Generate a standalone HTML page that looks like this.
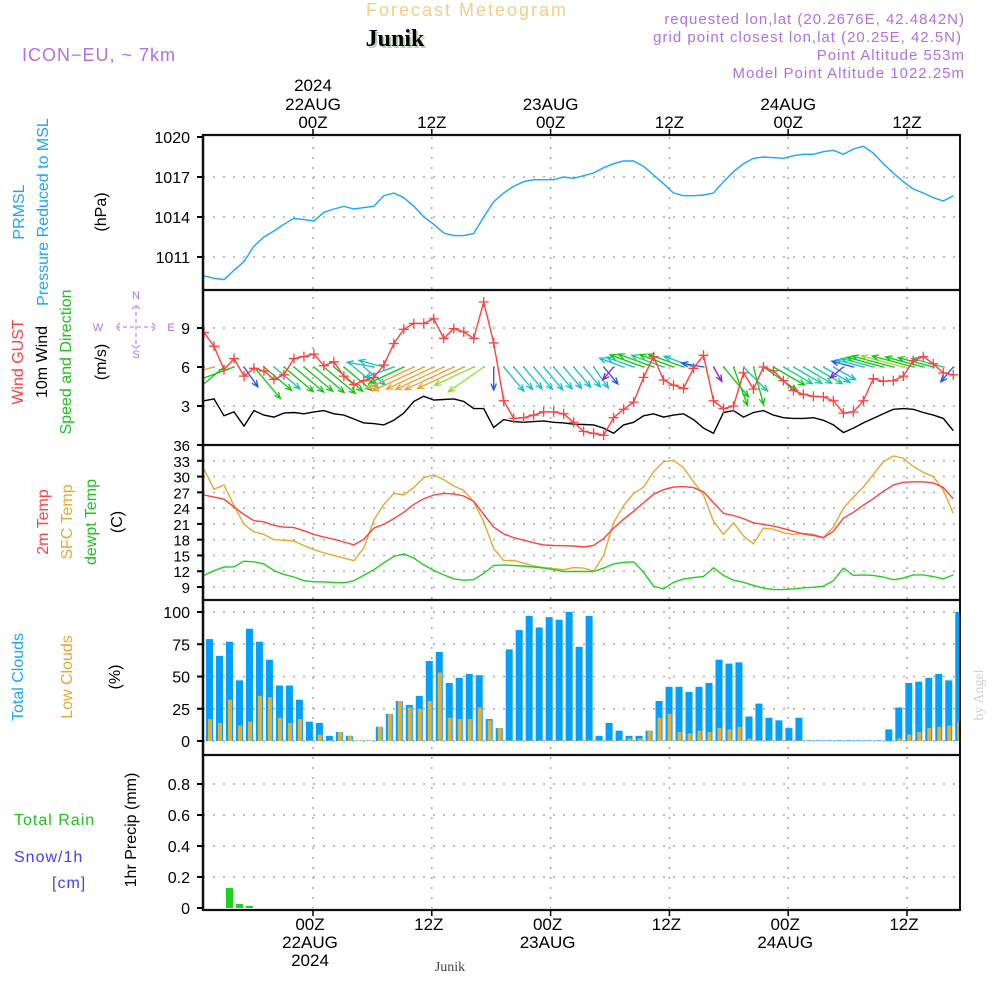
<!DOCTYPE html>
<html><head><meta charset="utf-8"><style>
html,body{margin:0;padding:0;background:#fff;}
svg{display:block;font-family:"Liberation Sans Narrow","Liberation Sans",sans-serif;}
</style></head><body>
<svg id="chart" width="1000" height="1000" viewBox="0 0 1000 1000" xmlns="http://www.w3.org/2000/svg">
<defs><clipPath id="plotclip"><rect x="203" y="135" width="757" height="775"/></clipPath></defs>
<rect x="0" y="0" width="1000" height="1000" fill="#fff"/>
<g>
<text x="467" y="16" text-anchor="middle" font-size="18" fill="#f2cc88" letter-spacing="2">Forecast Meteogram</text>
<text x="397" y="48" text-anchor="middle" font-size="24" font-weight="bold" fill="#b8d0b8" font-family="Liberation Serif,serif">Junik</text>
<text x="395" y="46" text-anchor="middle" font-size="24" font-weight="bold" fill="#000" font-family="Liberation Serif,serif">Junik</text>
<text x="22" y="61" font-size="18" fill="#b070e8" letter-spacing="1">ICON−EU, ~ 7km</text>
<text x="965" y="24" text-anchor="end" font-size="15" fill="#b070e8" letter-spacing="1">requested lon,lat (20.2676E, 42.4842N)</text>
<text x="962" y="42" text-anchor="end" font-size="15" fill="#b070e8" letter-spacing="1">grid point closest lon,lat (20.25E, 42.5N)</text>
<text x="965" y="60" text-anchor="end" font-size="15" fill="#b070e8" letter-spacing="1">Point Altitude 553m</text>
<text x="965" y="78" text-anchor="end" font-size="15" fill="#b070e8" letter-spacing="1">Model Point Altitude 1022.25m</text>
</g>
<g id="axes-labels" font-size="16">
<text transform="translate(24,212) rotate(-90)" text-anchor="middle" fill="#1aa6ff">PRMSL</text>
<text transform="translate(48,212) rotate(-90)" text-anchor="middle" fill="#1aa6ff">Pressure Reduced to MSL</text>
<text transform="translate(106,212) rotate(-90)" text-anchor="middle" fill="#000">(hPa)</text>
<text transform="translate(23,362) rotate(-90)" text-anchor="middle" fill="#ff4040">Wind GUST</text>
<text transform="translate(47,362) rotate(-90)" text-anchor="middle" fill="#000">10m Wind</text>
<text transform="translate(71,362) rotate(-90)" text-anchor="middle" fill="#20c020">Speed and Direction</text>
<text transform="translate(106,362) rotate(-90)" text-anchor="middle" fill="#000">(m/s)</text>
<g fill="#b070e8" font-size="11" text-anchor="middle">
<text x="136" y="299">N</text><text x="136" y="358">S</text><text x="98" y="331">W</text><text x="171" y="331">E</text>
<path d="M116,327H156M136,305V349M120,323L116,327L120,331M152,323L156,327L152,331M132,309L136,305L140,309M132,345L136,349L140,345" stroke="#b070e8" stroke-width="1" stroke-dasharray="4,3" fill="none"/>
</g>
<text transform="translate(48,522) rotate(-90)" text-anchor="middle" fill="#ff4040">2m Temp</text>
<text transform="translate(72,522) rotate(-90)" text-anchor="middle" fill="#e8a830">SFC Temp</text>
<text transform="translate(96,522) rotate(-90)" text-anchor="middle" fill="#20c020">dewpt Temp</text>
<text transform="translate(122,522) rotate(-90)" text-anchor="middle" fill="#000">(C)</text>
<text transform="translate(23,677) rotate(-90)" text-anchor="middle" fill="#1aa6ff">Total Clouds</text>
<text transform="translate(72,677) rotate(-90)" text-anchor="middle" fill="#e8a830">Low Clouds</text>
<text transform="translate(120,677) rotate(-90)" text-anchor="middle" fill="#000">(%)</text>
<text x="14" y="825" fill="#20c020" letter-spacing="1">Total  Rain</text>
<text x="14" y="862" fill="#4040ff" letter-spacing="1">Snow/1h</text>
<text x="52" y="888" fill="#4040ff" letter-spacing="1">[cm]</text>
<text transform="translate(136,830) rotate(-90)" text-anchor="middle" fill="#000">1hr Precip (mm)</text>
<text transform="translate(983,695) rotate(-90)" text-anchor="middle" fill="#d0d0d0" font-size="14" font-family="Liberation Serif,serif">by Angel</text>
<text x="450" y="971" text-anchor="middle" fill="#444" font-size="14" font-family="Liberation Serif,serif">Junik</text>
</g>
<g id="grid"></g>
<g id="marks" clip-path="url(#plotclip)"></g>
<g id="frame"></g>
<g id="ticks"></g>
</svg>
<script>
// ---- data ----
const pressure = [1009.58,1009.4,1009.3,1010.0,1010.65,1011.8,1012.5,1012.95,1013.45,1013.9,1013.8,1013.7,1014.35,1014.6,1014.8,1014.6,1014.7,1014.8,1015.6,1015.8,1015.45,1014.8,1014.0,1013.45,1012.8,1012.6,1012.6,1012.75,1014.0,1015.15,1015.8,1016.3,1016.65,1016.8,1016.8,1016.8,1017.0,1016.9,1017.1,1017.3,1017.7,1018.0,1018.2,1018.2,1017.8,1017.15,1016.5,1015.8,1015.6,1015.6,1015.65,1015.8,1016.65,1017.4,1018.0,1018.4,1018.5,1018.45,1018.4,1018.6,1018.7,1018.7,1018.9,1019.0,1018.7,1019.1,1019.3,1018.8,1018.0,1017.3,1016.65,1016.1,1015.8,1015.45,1015.2,1015.6];
const windGust = [8.65,7.6,5.8,6.65,5.3,5.9,5.7,5.05,5.4,6.65,6.8,7.0,6.1,6.4,5.3,4.65,4.95,5.2,6.15,7.8,8.9,9.35,9.35,9.7,8.2,8.95,8.7,8.2,11.0,7.85,3.4,2.05,2.1,2.3,2.55,2.55,2.4,1.75,1.05,0.9,0.75,2.1,2.75,3.3,5.2,6.8,5.0,4.6,4.35,5.9,6.9,3.4,2.8,3.0,5.55,4.3,6.0,5.7,4.95,4.2,3.9,3.75,3.7,3.4,2.45,2.55,3.4,5.1,4.9,4.95,5.3,6.5,6.8,6.25,5.55,5.4];
const wind10m = [3.4,3.55,2.25,2.55,1.45,2.65,2.3,2.15,2.45,2.5,2.4,2.55,2.65,2.4,2.3,2.0,1.7,1.65,1.55,1.9,2.45,3.35,3.75,3.45,3.5,3.55,3.35,2.8,2.8,1.35,1.95,1.8,1.75,1.8,1.85,1.75,1.7,1.6,1.58,1.55,1.3,0.9,1.55,1.75,2.25,2.4,2.15,2.3,2.4,1.95,1.3,0.9,2.5,2.65,2.15,2.5,2.65,2.3,2.1,2.05,2.05,2.1,1.9,1.55,0.95,1.3,1.7,2.05,2.4,2.75,2.8,2.75,2.5,2.3,2.05,1.1];
const windDir = [250,255,230,250,145,140,130,130,130,130,130,130,130,130,130,130,130,280,285,250,245,245,245,245,245,245,245,245,235,180,140,140,140,140,140,140,140,140,140,145,140,220,290,290,290,290,290,290,290,290,280,150,140,160,135,165,125,120,120,120,120,120,120,120,230,285,285,285,285,285,285,285,285,285,285,220];
const temp2m = [26.5,26.1,25.7,24.2,22.8,21.6,21.4,20.7,20.4,20.3,19.7,19.0,18.5,18.1,17.55,17.0,18.1,20.2,20.9,22.0,23.2,24.7,25.8,26.5,26.8,26.7,26.3,25.3,22.8,20.4,19.1,18.4,17.9,17.4,17.0,16.9,16.85,16.8,16.6,16.9,18.2,20.2,21.9,23.4,25.05,26.6,27.5,28.0,28.1,27.9,27.1,25.05,23.0,22.6,22.0,21.2,20.9,20.6,20.1,19.6,19.1,18.8,18.4,19.6,22.1,23.2,24.55,25.8,27.2,28.4,28.9,29.0,29.0,28.8,27.9,25.8];
const tempSfc = [31.4,27.6,28.4,24.5,20.9,19.5,19.0,18.0,17.9,17.75,16.9,16.1,15.5,15.0,14.5,14.0,16.4,21.7,24.7,26.8,26.5,27.9,29.8,30.3,29.4,28.2,27.4,25.2,21.4,16.3,14.05,14.05,13.55,13.0,12.7,12.5,12.3,12.7,12.6,12.0,15.0,21.2,24.5,26.8,28.0,30.9,32.8,33.1,31.7,29.0,26.5,21.5,19.0,21.2,18.7,17.2,20.2,20.0,19.3,19.0,19.2,19.0,18.4,20.4,24.0,26.1,28.0,30.4,32.8,33.9,33.5,31.9,30.8,30.0,27.4,23.0];
const dewpt = [11.2,12.1,12.8,12.85,13.9,13.8,13.4,12.15,11.4,10.9,10.2,10.0,10.0,9.85,9.8,10.2,11.2,12.3,13.6,14.8,15.3,14.5,13.2,12.15,11.3,10.55,10.3,10.4,11.6,13.1,13.2,13.1,13.0,12.8,12.6,12.3,11.95,11.95,11.95,11.95,12.6,13.4,13.7,13.8,11.8,9.15,8.65,9.9,10.55,10.8,11.0,12.65,11.2,10.3,9.9,9.3,8.8,8.5,8.5,8.65,8.85,8.95,9.15,10.2,12.6,11.2,11.3,11.2,10.9,10.4,10.7,11.3,11.3,11.0,10.55,11.3];
const totalClouds = [76,79,66,77,47,87,77,63,43,43,32,15,14,4,7,4,0.5,0.5,11,21,31,28,35,62,69,45,49,52,51,17,10,71,86,97,88,96,94,100,73,97,4,14,8,4,4,8,31,42,42,38,42,45,63,60,61,19,29,18,16,10,18,0.5,0.5,0.5,0.5,0.5,0.5,0.5,0.5,9,26,45,46,49,52,47,100];
const lowClouds = [40,17,14,32,12,15,35,34,18,14,17,0.5,5,0.5,7,4,0.5,0.5,11,21,31,26,25,31,53,18,17,17,26,16,10,0.5,0.5,0.5,0.5,0.5,0.5,0.5,0.5,0.5,0.5,0.5,0.5,2,2,8,18,21,7,6,8,7,10,9,11,2,0.5,0.5,0.5,0.5,0.5,0,0,0,0,0,0,0,0,0,2,5,7,10,11,12,15];
const precip = [0,0,0,0.129,0.026,0.013,0,0,0,0,0,0,0,0,0,0,0,0,0,0,0,0,0,0,0,0,0,0,0,0,0,0,0,0,0,0,0,0,0,0,0,0,0,0,0,0,0,0,0,0,0,0,0,0,0,0,0,0,0,0,0,0,0,0,0,0,0,0,0,0,0,0,0,0,0,0,0];
const timeTickHours = [0,12,24,36,48,60];
const timeTickLabels = ["00Z","12Z","00Z","12Z","00Z","12Z"];
const dateLabels = ["22AUG","","23AUG","","24AUG",""];
const pressureTicks = [1020,1017,1014,1011];
const windTicks = [9,6,3];
const tempTicks = [36,33,30,27,24,21,18,15,12,9];
const cloudTicks = [100,75,50,25,0];
const precipTicks = [0,0.2,0.4,0.6,0.8];

// ---- scales ----
const NS = "http://www.w3.org/2000/svg";
const xs = i => 204 + 9.99 * i;
const xb = k => 199.5 + 9.99 * k;
const xt = h => 313 + 9.9 * h;
const yP = v => 137 + (1020 - v) * 13.33;
const yW = v => 445 - v * 13;
const yT = v => 445 + (36 - v) * 5.26;
const yC = v => 741 - v * 1.29;
const yR = v => 908 - v * 155;
const X0 = 203, X1 = 960;

function mk(tag, attrs, parent) {
  const e = document.createElementNS(NS, tag);
  for (const k in attrs) e.setAttribute(k, attrs[k]);
  parent.appendChild(e);
  return e;
}
const grid = document.getElementById('grid');
const marks = document.getElementById('marks');
const frame = document.getElementById('frame');
const ticks = document.getElementById('ticks');

function yAxis(vals, scale, name, top, bot, fmt, fs) {
  vals.forEach(v => {
    const y = scale(v);
    if (y > top + 2 && y < bot - 2) {
      const g = mk('line', {x1: X0, x2: X1, y1: y, y2: y, stroke: '#aaa', 'stroke-width': 1.5, 'stroke-dasharray': '2,8'}, grid);
      
      
    }
    const t = mk('line', {x1: X0 - 6, x2: X0, y1: y, y2: y, stroke: '#000', 'stroke-width': 2}, ticks);
    
    
    const tx = mk('text', {x: 190, y: y + 6, 'text-anchor': 'end', 'font-size': fs, fill: '#000', 'font-family': 'Liberation Sans,sans-serif'}, ticks);
    
    
    tx.textContent = fmt(v);
  });
}
yAxis(pressureTicks, yP, 'pressure', 135, 290, v => v, 16);
yAxis(windTicks, yW, 'wind', 290, 445, v => v, 16);
yAxis(tempTicks, yT, 'temp', 445, 600, v => v, 15);
yAxis(cloudTicks, yC, 'cloud', 600, 755, v => v, 16);
yAxis(precipTicks, yR, 'precip', 755, 910, v => v === 0 ? '0' : v.toFixed(1), 16);

timeTickHours.forEach((h, i) => {
  const x = xt(h);
  const g = mk('line', {x1: x, x2: x, y1: 137, y2: 908, stroke: '#aaa', 'stroke-width': 1.5, 'stroke-dasharray': '2,8'}, grid);
  
  
  const t1 = mk('line', {x1: x, x2: x, y1: 129, y2: 136, stroke: '#000', 'stroke-width': 1.5}, ticks);
  
  
  const t2 = mk('line', {x1: x, x2: x, y1: 909, y2: 916, stroke: '#000', 'stroke-width': 1.5}, ticks);
  
  
  const a = mk('text', {x: x, y: 128, 'text-anchor': 'middle', 'font-size': 17}, ticks);
  
  
  a.textContent = timeTickLabels[i];
  const b = mk('text', {x: x - 3, y: 930, 'text-anchor': 'middle', 'font-size': 17}, ticks);
  
  
  b.textContent = timeTickLabels[i];
  if (dateLabels[i]) {
    const c = mk('text', {x: x, y: 110, 'text-anchor': 'middle', 'font-size': 17}, ticks);
    
    
    c.textContent = dateLabels[i];
    const d = mk('text', {x: x - 3, y: 948, 'text-anchor': 'middle', 'font-size': 17}, ticks);
    
    
    d.textContent = dateLabels[i];
  }
  if (i === 0) {
    const e = mk('text', {x: x, y: 91, 'text-anchor': 'middle', 'font-size': 17}, ticks);
    
    
    e.textContent = '2024';
    const f = mk('text', {x: x - 3, y: 966, 'text-anchor': 'middle', 'font-size': 17}, ticks);
    
    
    f.textContent = '2024';
  }
});

totalClouds.forEach((v, k) => {
  const r = mk('rect', {x: xb(k) - 3.5, y: yC(v), width: 7, height: yC(0) - yC(v), fill: '#00a0ff'}, marks);
  
  
});
lowClouds.forEach((v, k) => {
  if (v <= 0) return;
  const r = mk('rect', {x: xb(k) - 1.5, y: yC(v), width: 4, height: yC(0) - yC(v), fill: '#e8b030'}, marks);
  
  
});
precip.forEach((v, k) => {
  if (v <= 0) return;
  const r = mk('rect', {x: xb(k) - 3.5, y: yR(v), width: 7, height: yR(0) - yR(v), fill: '#20d020'}, marks);
  
  
});

function line(arr, ys, color, name) {
  const d = arr.map((v, i) => (i ? 'L' : 'M') + xs(i).toFixed(1) + ',' + ys(v).toFixed(1)).join('');
  const p = mk('path', {d: d, fill: 'none', stroke: color, 'stroke-width': 1.4}, marks);
  
  
}
line(pressure, yP, '#1aa6ff', 'pressure-line');
line(wind10m, yW, '#000', 'wind10m-line');
line(tempSfc, yT, '#e8a830', 'sfc-temp-line');
line(temp2m, yT, '#ff4040', 'temp2m-line');
line(dewpt, yT, '#20d020', 'dewpt-line');

function windColor(s) {
  if (s < 1.1) return '#8020e0';
  if (s < 1.5) return '#2050ff';
  if (s < 2.0) return '#10c0d0';
  if (s < 2.2) return '#10d090';
  if (s < 2.8) return '#10c810';
  if (s < 3.2) return '#90e030';
  return '#f0a030';
}
windDir.forEach((deg, i) => {
  const s = wind10m[i];
  const len = 14 * s + 4;
  const a = deg * Math.PI / 180;
  const x1 = xs(i), y1 = yW(6);
  const x2 = x1 + len * Math.sin(a), y2 = y1 - len * Math.cos(a);
  const c = windColor(s);
  const h1 = a + Math.PI - 0.4, h2 = a + Math.PI + 0.4;
  const d = 'M' + x1 + ',' + y1 + 'L' + x2 + ',' + y2 +
    'M' + (x2 + 7 * Math.sin(h1)) + ',' + (y2 - 7 * Math.cos(h1)) + 'L' + x2 + ',' + y2 +
    'L' + (x2 + 7 * Math.sin(h2)) + ',' + (y2 - 7 * Math.cos(h2));
  const p = mk('path', {d: d, fill: 'none', stroke: c, 'stroke-width': 1.3}, marks);
  
  
});

line(windGust, yW, '#ff4040', 'gust-line');
windGust.forEach((v, i) => {
  const x = xs(i), y = yW(v);
  const p = mk('path', {d: `M${x-5},${y}H${x+5}M${x},${y-5}V${y+5}`, stroke: '#ff4040', 'stroke-width': 1.3}, marks);
  
  
});

[135, 290, 445, 600, 755, 910].forEach(y => {
  const l = mk('line', {x1: X0, x2: X1, y1: y, y2: y, stroke: '#111', 'stroke-width': 2.2}, frame);
  
  
});
const lft = mk('line', {x1: X0, x2: X0, y1: 134, y2: 911, stroke: '#111', 'stroke-width': 2.5}, frame);


const rgt = mk('line', {x1: X1, x2: X1, y1: 134, y2: 911, stroke: '#111', 'stroke-width': 2}, frame);


</script>
</body></html>
